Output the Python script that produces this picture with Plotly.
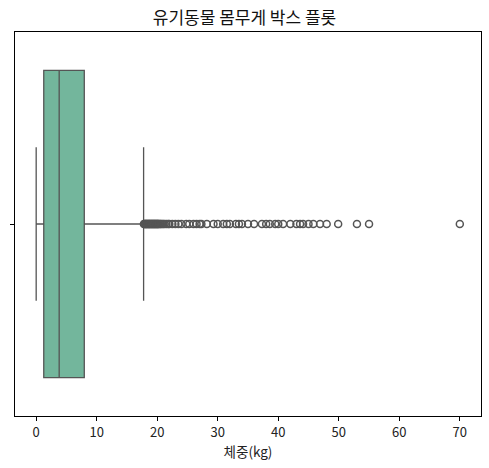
import plotly.graph_objects as go

# Box statistics (kg)
q1 = [1.25]
median = [3.8]
q3 = [7.95]
lower_fence = [0.0]
upper_fence = [17.75]

# Outlier weights (kg)
outliers = [17.8, 17.9, 18.0, 18.1, 18.2, 18.3, 18.4, 18.5, 18.6, 18.7, 18.8, 18.9,
            19.0, 19.1, 19.2, 19.3, 19.4, 19.5, 19.6, 19.7, 19.8, 19.9, 20.0, 20.1,
            20.2, 20.3, 20.5, 20.6, 20.8, 21.0, 21.2, 21.5, 21.8, 22.0, 22.5, 23.0,
            23.5, 24.0, 24.8, 25.3, 26.0, 26.5, 27.0, 27.3, 28.2, 29.3, 30.0, 30.9,
            31.5, 32.0, 33.0, 33.5, 34.0, 35.0, 36.0, 37.3, 38.0, 38.6, 39.5, 40.0,
            40.8, 42.0, 43.0, 43.6, 44.1, 45.0, 45.8, 46.9, 48.0, 49.9, 53.0, 55.0, 70.0]

xticks = [0, 10, 20, 30, 40, 50, 60, 70]

FONT = "Noto Sans CJK KR, NanumGothic, sans-serif"
LINE = "#555555"

fig = go.Figure()
fig.add_trace(go.Box(
    y=[0], q1=q1, median=median, q3=q3,
    lowerfence=lower_fence, upperfence=upper_fence,
    orientation="h", width=0.8, whiskerwidth=0.5,
    fillcolor="rgb(115,182,156)",
    line=dict(color=LINE, width=1.3),
    boxpoints=False, showlegend=False, hoverinfo="x",
))
fig.add_trace(go.Scatter(
    x=outliers, y=[0] * len(outliers), mode="markers",
    marker=dict(symbol="circle-open", size=7, color=LINE, line=dict(width=1.5, color=LINE)),
    showlegend=False,
))

fig.update_layout(
    width=489, height=468,
    margin=dict(l=15, r=8, t=32, b=52, autoexpand=False),
    paper_bgcolor="white", plot_bgcolor="white",
    font=dict(family=FONT, size=13, color="#222222"),
    title=dict(text="유기동물 몸무게 박스 플롯", x=0.5, xanchor="center",
               y=1 - 18 / 468, yanchor="middle", font=dict(size=17, color="#111111")),
)
fig.update_xaxes(
    range=[-3.5, 73.5], tickvals=xticks, ticktext=[str(t) for t in xticks],
    showgrid=False, zeroline=False, automargin=False,
    showline=True, linecolor="black", linewidth=1, mirror=True,
    ticks="outside", ticklen=4, tickcolor="black",
    title=dict(text="체중(kg)", font=dict(size=13.5), standoff=6),
)
fig.update_yaxes(
    range=[0.5, -0.5], tickvals=[0], ticktext=[""], automargin=False,
    showgrid=False, zeroline=False,
    showline=True, linecolor="black", linewidth=1, mirror=True,
    ticks="outside", ticklen=4, tickcolor="black",
)

fig.write_html("out.html", config={"displayModeBar": False},
               post_script="document.body.style.margin='0';")
